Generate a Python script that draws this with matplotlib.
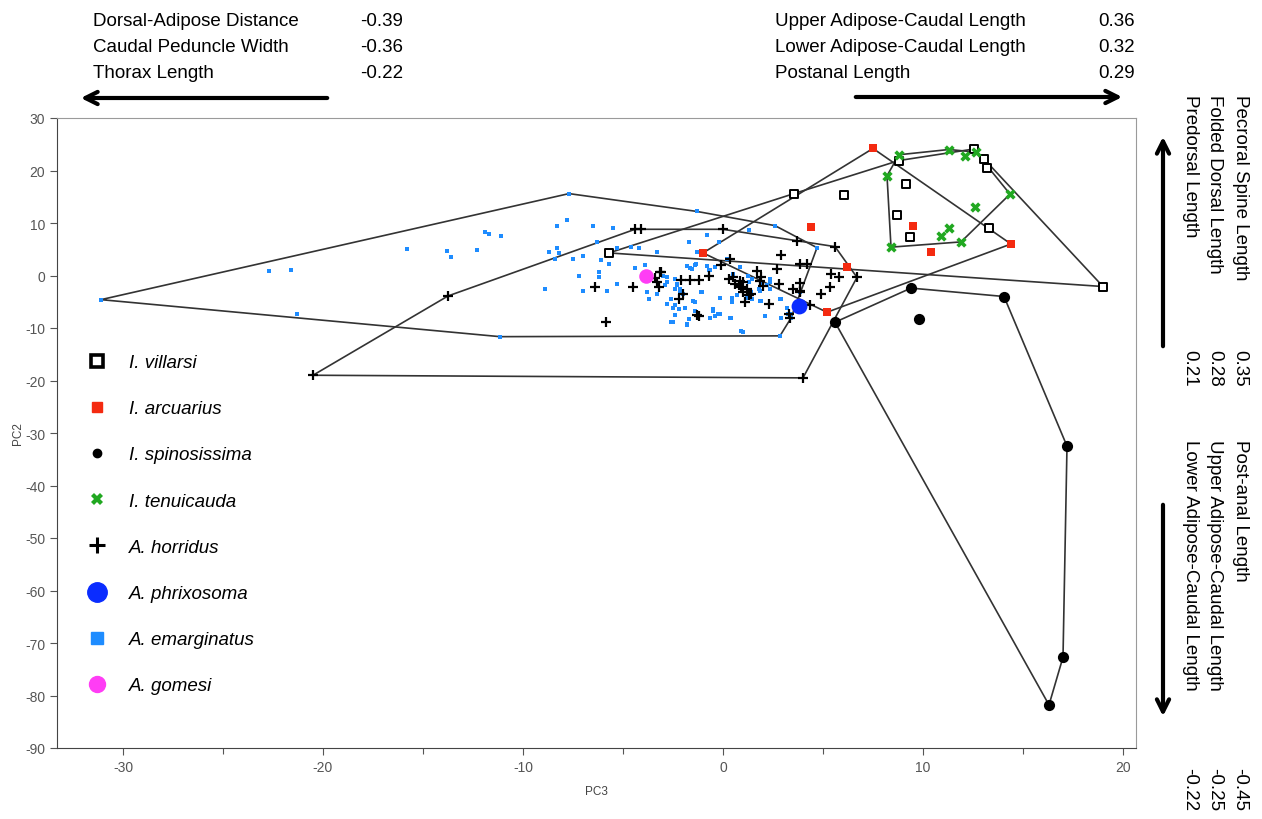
import matplotlib
matplotlib.use("Agg")
from matplotlib import pyplot as plt
from matplotlib.lines import Line2D
from matplotlib.ticker import MultipleLocator

plt.rcParams["font.family"] = ["Liberation Sans", "DejaVu Sans"]
plt.rcParams["axes.unicode_minus"] = False

# PC3 (x), PC2 (y) scores
villarsi_x = [-5.7, 3.55, 6.05, 8.8, 9.15, 8.7, 9.35, 12.55, 13.05, 13.2, 13.3, 19.0]
villarsi_y = [4.3, 15.6, 15.4, 21.9, 17.4, 11.5, 7.3, 24.1, 22.2, 20.4, 9.0, -2.1]

arcuarius_x = [-1.0, 7.5, 4.4, 9.5, 10.4, 14.4, 6.2, 5.2]
arcuarius_y = [4.3, 24.2, 9.2, 9.5, 4.5, 6.0, 1.6, -7.0]

spinosissima_x = [5.6, 9.4, 14.05, 9.8, 17.2, 17.0, 16.3]
spinosissima_y = [-8.9, -2.4, -4.0, -8.3, -32.5, -72.7, -81.8]

tenuicauda_x = [8.8, 8.2, 11.3, 12.1, 12.65, 14.35, 12.6, 11.3, 10.9, 11.9, 8.4]
tenuicauda_y = [23.0, 19.0, 24.0, 22.8, 23.5, 15.5, 13.0, 9.0, 7.5, 6.4, 5.4]

horridus_x = [-20.5, 4.0, 6.7, 5.6, 3.7, 0.0, -4.1, -4.4, -13.75,
              0.35, -0.1, -3.1, -3.4, -3.3, -3.2, -6.4, -4.5, -5.85, -2.1,
              -1.65, -1.2, -0.7, -2.0, -2.2, -1.3, 0.3, 0.5, 0.6, 0.8, 0.85,
              1.0, 1.0, 1.3, 1.1, 1.4, 1.7, 1.9, 1.85, 2.3, 2.7, 2.9, 2.8,
              3.5, 3.85, 3.85, 3.85, 4.2, 3.3, 3.35, 4.35, 4.9, 5.35, 5.4,
              5.8, -3.15, 0.9, 1.2, 2.0, -1.2, 3.85]
horridus_y = [-19.0, -19.5, -0.35, 5.5, 6.5, 8.8, 8.8, 8.8, -3.9,
              3.1, 2.0, 0.6, -0.5, -1.3, -2.2, -2.2, -2.1, -8.8, -0.8,
              -0.8, -0.8, -0.15, -3.5, -4.5, -7.5, -0.7, -0.35, -1.6, -1.9, -1.0,
              -1.3, -3.2, -3.8, -5.1, -3.5, 0.9, -0.35, -1.0, -5.4, 1.2, 4.0, -1.6,
              -2.6, -1.4, -3.2, 2.2, 2.2, -7.3, -8.0, -5.7, -3.5, -2.1, 0.3,
              -0.35, 0.7, -2.2, -2.5, -2.0, -7.7, -2.9]

phrixosoma_x = [3.8]
phrixosoma_y = [-5.75]

emarginatus_x = [-31.1, -22.7, -21.6, -21.3, -15.8, -13.8, -13.6, -12.3, -11.9, -11.7,
                 -11.1, -7.7, -1.3, -8.3, -7.8, -6.5, -5.5, -6.3, -8.7, -8.3,
                 -8.2, -8.4, -7.5, -7.0, -6.1, -5.3, -4.6, -4.2, -3.3, -1.7,
                 -0.8, -0.2, 1.3, 2.6, 4.7, -7.2, -6.2, -6.2, -8.9, -7.0,
                 -5.8, -5.3, -4.4, -3.9, -3.8, -3.7, -3.3, -2.9, -2.6, -2.4,
                 -2.2, -2.6, -2.4, -1.8, -1.7, -1.4, -1.1, -0.5, -0.4, -0.15,
                 -0.15, 0.4, 0.7, 0.9, 1.0, 1.3, 1.4, 1.8, 1.9, 2.1,
                 2.9, 2.9, -1.8, -1.65, -1.4, -0.7, -0.4, 0.2, 0.85, 0.5,
                 -3.0, -2.8, -2.3, -2.15, 2.2, 2.35, 3.2, 3.35, 3.85, -11.15,
                 2.85, -5.7, -2.8, -1.3, -2.82, -2.4, -2.32, -2.4, -2.15, -1.98,
                 -1.48, -1.07, -2.48, -2.82, -1.9, -1.4, -0.48, -0.23, -0.65, -2.48,
                 -1.82, 0.35, 0.43, 0.43, 1.35, 1.18, 1.43, 1.85, 1.85, 2.35,
                 2.85, 3.27, 3.4, 1.27, 1.43, 1.93, 2.35, -0.82, -1.35, -1.57,
                 -0.65]
emarginatus_y = [-4.6, 0.9, 1.1, -7.3, 5.0, 4.6, 3.5, 4.8, 8.3, 8.0,
                 7.5, 15.6, 12.2, 9.5, 10.6, 9.5, 9.0, 6.4, 4.5, 5.2,
                 4.3, 3.1, 3.1, 3.8, 3.0, 5.2, 5.5, 5.3, 4.4, 6.4,
                 7.7, 6.4, 8.7, 9.5, 5.3, 0.0, 0.6, -0.2, -2.6, -2.9,
                 -2.9, -1.7, 1.4, 2.0, -3.1, -4.5, -3.6, -1.9, -4.5, -5.7,
                 -6.3, -8.9, -7.5, -9.2, -8.3, -5.0, -3.2, -6.7, -7.7, -7.3,
                 -4.3, -8.0, -3.8, -10.5, -10.8, -1.3, -3.2, -2.6, -4.8, -7.7,
                 -8.0, -4.5, 1.75, 1.4, 2.0, 1.1, 1.6, 3.1, 1.6, 0.3,
                 0.0, -0.2, -1.8, -2.6, -1.9, -0.7, -6.1, -7.3, -3.2, -11.65,
                 -11.5, 2.1, -5.5, 4.4, -1.3, -0.7, -1.6, -2.6, -2.9, -3.5,
                 -4.8, -3.2, -6.1, -5.4, -6.1, -6.7, -6.4, -7.3, -8.0, -8.9,
                 -9.4, -8.0, -4.2, -5.1, -3.2, -4.2, -4.5, -2.9, -4.8, -2.6,
                 -4.5, -7.3, -8.1, 0.0, -0.7, -1.6, -1.3, 1.9, 2.1, 1.2,
                 1.1]

gomesi_x = [-3.85]
gomesi_y = [-0.15]

species = ["I. villarsi", "I. arcuarius", "I. spinosissima", "I. tenuicauda",
           "A. horridus", "A. phrixosoma", "A. emarginatus", "A. gomesi"]

left_loadings = ["Dorsal-Adipose Distance", "Caudal Peduncle Width", "Thorax Length"]
left_values = ["-0.39", "-0.36", "-0.22"]
right_loadings = ["Upper Adipose-Caudal Length", "Lower Adipose-Caudal Length", "Postanal Length"]
right_values = ["0.36", "0.32", "0.29"]
up_loadings = ["Pecroral Spine Length", "Folded Dorsal Length", "Predorsal Length"]
up_values = ["0.35", "0.28", "0.21"]
down_loadings = ["Post-anal Length", "Upper Adipose-Caudal Length", "Lower Adipose-Caudal Length"]
down_values = ["-0.45", "-0.25", "-0.22"]


def hull(xs, ys):
    pts = sorted(set(zip(xs, ys)))
    if len(pts) < 3:
        return pts

    def cross(o, a, b):
        return (a[0] - o[0]) * (b[1] - o[1]) - (a[1] - o[1]) * (b[0] - o[0])

    lower, upper = [], []
    for p in pts:
        while len(lower) >= 2 and cross(lower[-2], lower[-1], p) <= 0:
            lower.pop()
        lower.append(p)
    for p in reversed(pts):
        while len(upper) >= 2 and cross(upper[-2], upper[-1], p) <= 0:
            upper.pop()
        upper.append(p)
    h = lower[:-1] + upper[:-1]
    return h + [h[0]]


W, H = 1262, 820
fig = plt.figure(figsize=(W / 100, H / 100), dpi=100)
ax = fig.add_axes([57 / W, 1 - 749 / H, (1136 - 57) / W, (749 - 119) / H])

# convex hulls
for xs, ys in [(villarsi_x, villarsi_y), (arcuarius_x, arcuarius_y),
               (spinosissima_x, spinosissima_y), (tenuicauda_x, tenuicauda_y),
               (horridus_x, horridus_y), (emarginatus_x, emarginatus_y)]:
    h = hull(xs, ys)
    ax.plot([p[0] for p in h], [p[1] for p in h], color="#333333", lw=1.2, zorder=2)

red = "#f42a10"
green = "#21a821"
lblue = "#1e8cff"
dblue = "#0a2cff"
pink = "#ff3df5"

ax.scatter(emarginatus_x, emarginatus_y, marker="s", s=12, color=lblue, lw=0, zorder=3)
ax.scatter(horridus_x, horridus_y, marker="+", s=55, color="black", lw=1.6, zorder=4)
ax.scatter(villarsi_x, villarsi_y, marker="s", s=36, facecolor="white", edgecolor="black", lw=1.4, zorder=4)
ax.scatter(arcuarius_x, arcuarius_y, marker="s", s=40, color=red, lw=0, zorder=4)
ax.scatter(spinosissima_x, spinosissima_y, marker="o", s=65, color="black", lw=0, zorder=4)
ax.scatter(tenuicauda_x, tenuicauda_y, marker="X", s=55, color=green, lw=0, zorder=4)
ax.scatter(phrixosoma_x, phrixosoma_y, marker="o", s=130, color=dblue, lw=0, zorder=5)
ax.scatter(gomesi_x, gomesi_y, marker="o", s=110, color=pink, lw=0, zorder=5)

ax.set_xlim(-33.3, 20.65)
ax.set_ylim(-90, 30)
ax.xaxis.set_major_locator(MultipleLocator(10))
ax.xaxis.set_minor_locator(MultipleLocator(5))
ax.yaxis.set_major_locator(MultipleLocator(10))
ax.tick_params(axis="both", which="both", direction="out", colors="#555555",
               labelsize=10, length=5, width=0.8)
ax.tick_params(axis="x", which="minor", length=4)
ax.set_xlabel("PC3", fontsize=8.5, color="#444444", labelpad=8)
ax.set_ylabel("PC2", fontsize=8.5, color="#444444")
ax.yaxis.set_label_coords(-33 / 1079, 0.5)
for side in ["left", "bottom"]:
    ax.spines[side].set_color("#444444")
for side in ["top", "right"]:
    ax.spines[side].set_color("#9a9a9a")

handles = [
    Line2D([], [], ls="none", marker="s", markersize=9, markerfacecolor="white",
           markeredgecolor="black", markeredgewidth=2.6),
    Line2D([], [], ls="none", marker="s", markersize=7, color=red),
    Line2D([], [], ls="none", marker="o", markersize=6, color="black"),
    Line2D([], [], ls="none", marker="X", markersize=9, color=green, markeredgewidth=0),
    Line2D([], [], ls="none", marker="+", markersize=11, color="black", markeredgewidth=2.2),
    Line2D([], [], ls="none", marker="o", markersize=14, color=dblue),
    Line2D([], [], ls="none", marker="s", markersize=8.5, color=lblue),
    Line2D([], [], ls="none", marker="o", markersize=11.5, color=pink),
]
ax.legend(handles, species, loc="upper left", bbox_to_anchor=(88 / W, 1 - 355 / H),
          bbox_transform=fig.transFigure, frameon=False, borderpad=0, borderaxespad=0,
          handlelength=1.0, handletextpad=1.2, labelspacing=1.55,
          prop={"family": "Liberation Sans", "style": "italic", "size": 13.5})

fs = 13.5
for i in range(3):
    y = 1 - (21 + 26 * i) / H
    fig.text(93 / W, y, left_loadings[i], fontsize=fs, va="center", ha="left")
    fig.text(360 / W, y, left_values[i], fontsize=fs, va="center", ha="left")
    fig.text(775 / W, y, right_loadings[i], fontsize=fs, va="center", ha="left")
    fig.text(1098 / W, y, right_values[i], fontsize=fs, va="center", ha="left")
    x = (1240 - 25 * i) / W
    fig.text(x, 1 - 95 / H, up_loadings[i], fontsize=fs, rotation=270, ha="center", va="top")
    fig.text(x, 1 - 350 / H, up_values[i], fontsize=fs, rotation=270, ha="center", va="top")
    fig.text(x, 1 - 440 / H, down_loadings[i], fontsize=fs, rotation=270, ha="center", va="top")
    fig.text(x, 1 - 768 / H, down_values[i], fontsize=fs, rotation=270, ha="center", va="top")

arrow = dict(arrowstyle="->", lw=3, color="black", mutation_scale=22)
ax.annotate("", xy=(78 / W, 1 - 99 / H), xycoords="figure fraction",
            xytext=(330 / W, 1 - 99 / H), textcoords="figure fraction",
            arrowprops=arrow, annotation_clip=False)
ax.annotate("", xy=(1125 / W, 1 - 98 / H), xycoords="figure fraction",
            xytext=(853 / W, 1 - 98 / H), textcoords="figure fraction",
            arrowprops=arrow, annotation_clip=False)
ax.annotate("", xy=(1163 / W, 1 - 135 / H), xycoords="figure fraction",
            xytext=(1163 / W, 1 - 350 / H), textcoords="figure fraction",
            arrowprops=arrow, annotation_clip=False)
ax.annotate("", xy=(1163 / W, 1 - 720 / H), xycoords="figure fraction",
            xytext=(1163 / W, 1 - 503 / H), textcoords="figure fraction",
            arrowprops=arrow, annotation_clip=False)

fig.savefig("out.png", dpi=100, facecolor="white")
